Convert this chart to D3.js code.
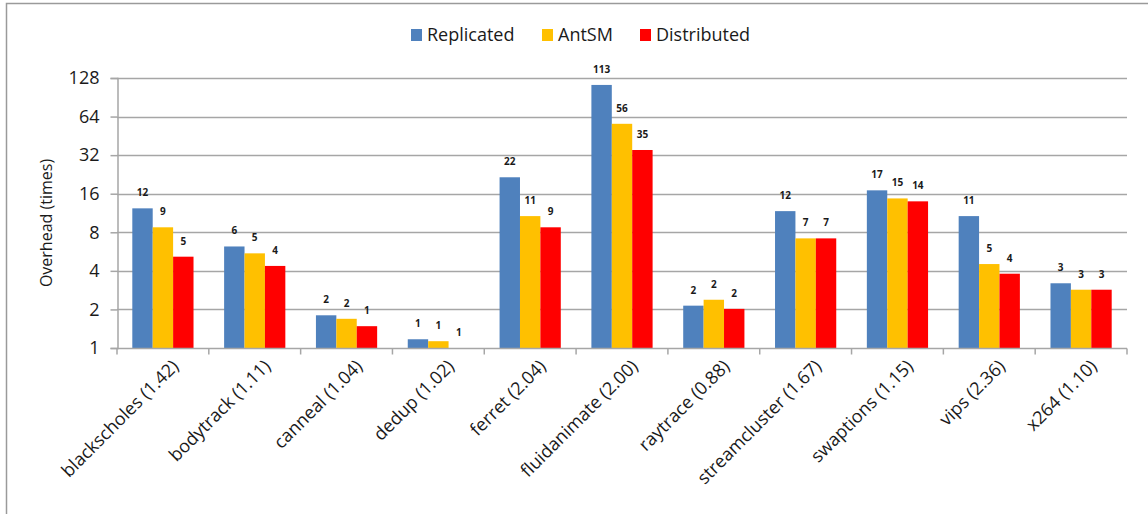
<!DOCTYPE html>
<html>
<head>
<meta charset="utf-8">
<script src="https://cdn.jsdelivr.net/npm/d3@7"></script>
<style>
  html, body { margin: 0; padding: 0; background: #fff; }
  svg { display: block; font-family: "Open Sans", sans-serif; }
</style>
</head>
<body>
<svg id="chart" width="1148" height="514"></svg>
<script>
// PARSEC benchmarks (baseline overhead in parentheses)
const categories = [
  "blackscholes (1.42)", "bodytrack (1.11)", "canneal (1.04)", "dedup (1.02)",
  "ferret (2.04)", "fluidanimate (2.00)", "raytrace (0.88)", "streamcluster (1.67)",
  "swaptions (1.15)", "vips (2.36)", "x264 (1.10)"
];
const seriesNames = ["Replicated", "AntSM", "Distributed"];
const replicated  = [12.3, 6.2, 1.8, 1.17, 21.5, 113, 2.14, 11.7, 17.0, 10.7, 3.2];
const antsm       = [8.75, 5.48, 1.69, 1.13, 10.7, 56.2, 2.38, 7.17, 14.7, 4.52, 2.85];
const distributed = [5.16, 4.37, 1.48, 1.0, 8.75, 35.1, 2.02, 7.17, 13.95, 3.8, 2.85];
const yTicks = [1, 2, 4, 8, 16, 32, 64, 128];
const colors = ["#4F81BD", "#FFC000", "#FF0000"];

const series = [replicated, antsm, distributed];

const svg = d3.select("#chart");
const W = 1148, H = 514;
const x0 = 117, x1 = 1127, yTop = 78, yBot = 348;
const textColor = "#1a1a1a";
const gridColor = "#a6a6a6";

// outer frame
svg.append("path")
  .attr("d", `M6.5,${H} V3.5 H${W}`)
  .attr("fill", "none").attr("stroke", "#9a9a9a").attr("stroke-width", 1.5);

const x = d3.scaleBand().domain(categories).range([x0, x1]).paddingInner(0).paddingOuter(0);
const xs = d3.scaleBand().domain(seriesNames).range([0, x.bandwidth()]).paddingOuter(0.75).paddingInner(0);
const y = d3.scaleLog().base(2).domain([1, 128]).range([yBot, yTop]);

// gridlines
svg.append("g").selectAll("line").data(yTicks.slice(1)).join("line")
  .attr("x1", x0).attr("x2", x1)
  .attr("y1", d => Math.round(y(d)) + 0.5).attr("y2", d => Math.round(y(d)) + 0.5)
  .attr("stroke", gridColor).attr("stroke-width", 1.5);

// y axis
const yAxis = svg.append("g").attr("transform", `translate(${x0 + 0.5},0)`)
  .call(d3.axisLeft(y).tickValues(yTicks).tickFormat(d3.format("d")).tickSize(7).tickPadding(11));
yAxis.select(".domain").attr("stroke", gridColor).attr("stroke-width", 1.5);
yAxis.selectAll(".tick line").attr("stroke", gridColor).attr("stroke-width", 1.5);
yAxis.selectAll(".tick text").attr("font-size", 18).attr("fill", textColor)
  .attr("font-family", "Open Sans, sans-serif");

svg.append("text")
  .attr("transform", `translate(52,${(yTop + yBot) / 2 + 10}) rotate(-90)`)
  .attr("text-anchor", "middle").attr("font-size", 16).attr("fill", textColor)
  .text("Overhead (times)");

// bars with value labels
const groups = svg.append("g").selectAll("g").data(categories).join("g")
  .attr("transform", d => `translate(${x(d)},0)`);

groups.each(function (cat, i) {
  const g = d3.select(this);
  seriesNames.forEach((s, k) => {
    const v = series[k][i];
    g.append("rect")
      .attr("x", xs(s)).attr("width", xs.bandwidth())
      .attr("y", y(v)).attr("height", yBot - y(v))
      .attr("fill", colors[k]);
    g.append("text")
      .attr("x", xs(s) + xs.bandwidth() / 2)
      .attr("y", y(v) - 12)
      .attr("text-anchor", "middle")
      .attr("font-size", 10).attr("font-weight", "bold").attr("fill", textColor)
      .text(d3.format(".0f")(v));
  });
});

// x axis
const xAxisG = svg.append("g").attr("transform", `translate(0,${yBot + 0.5})`);
xAxisG.append("line").attr("x1", x0).attr("x2", x1).attr("stroke", gridColor).attr("stroke-width", 1.5);
xAxisG.selectAll("line.tk").data(d3.range(categories.length + 1)).join("line")
  .attr("class", "tk")
  .attr("x1", i => x0 + i * x.bandwidth()).attr("x2", i => x0 + i * x.bandwidth())
  .attr("y1", 0).attr("y2", 6)
  .attr("stroke", gridColor).attr("stroke-width", 1.5);
xAxisG.selectAll("text").data(categories).join("text")
  .attr("transform", d => `translate(${x(d) + x.bandwidth() / 2 + 8},${10}) rotate(-45)`)
  .attr("text-anchor", "end").attr("dy", "0.7em")
  .attr("font-size", 18).attr("fill", textColor)
  .text(d => d);

// legend
const legend = svg.append("g").attr("transform", "translate(411,35)");
const legendX = [0, 131, 229];
seriesNames.forEach((s, k) => {
  const g = legend.append("g").attr("transform", `translate(${legendX[k]},0)`);
  g.append("rect").attr("x", 0).attr("y", -6).attr("width", 11).attr("height", 12).attr("fill", colors[k]);
  g.append("text").attr("x", 16).attr("y", 0).attr("dy", "0.35em")
    .attr("font-size", 18).attr("fill", textColor).text(s);
});
</script>
</body>
</html>
